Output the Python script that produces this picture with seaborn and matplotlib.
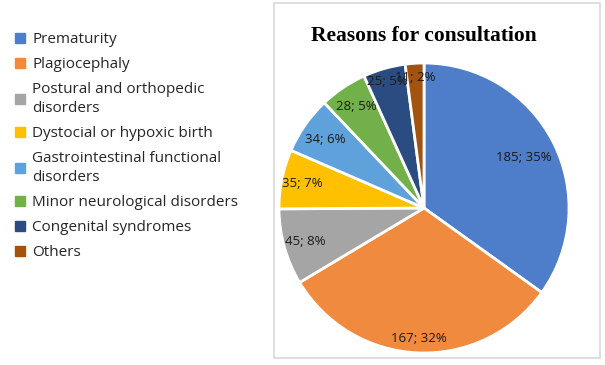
import numpy as np
import pandas as pd
import seaborn as sns
import matplotlib.pyplot as plt
from matplotlib.lines import Line2D
from matplotlib.patches import Rectangle

# data
reasons = ['Prematurity', 'Plagiocephaly', 'Postural and orthopedic\ndisorders',
           'Dystocial or hypoxic birth', 'Gastrointestinal functional\ndisorders',
           'Minor neurological disorders', 'Congenital syndromes', 'Others']
counts = [185, 167, 45, 35, 34, 28, 25, 11]
pct_labels = ['35%', '32%', '8%', '7%', '6%', '5%', '5%', '2%']
colors = ['#4E7DC9', '#F08A3E', '#A5A5A5', '#FFC000', '#5FA1DA', '#72B04A', '#2B4C80', '#A3520F']

# how far out each label sits (fraction of radius), mimics excel best fit
label_dist = [0.77, 0.90, 0.85, 0.86, 0.83, 0.84, 0.91, 0.90]

df = pd.DataFrame({'reason': reasons, 'count': counts, 'pct': pct_labels})

sns.set_theme(style='white')
plt.rcParams['font.family'] = ['Open Sans', 'DejaVu Sans']
pal = sns.color_palette(colors)

fig = plt.figure(figsize=(6.05, 3.65), dpi=100)

# grey frame around the chart area
fig.patches.append(Rectangle((274/605, 1 - 358/365), (600-274)/605, (358-3)/365,
                             transform=fig.transFigure, fill=False,
                             edgecolor='#D9D9D9', linewidth=1.2))

ax = fig.add_axes([(424-145)/605, (157-145)/365, 290/605, 290/365])
wedges, _ = ax.pie(df['count'], colors=pal, startangle=90, counterclock=False,
                   wedgeprops=dict(edgecolor='white', linewidth=2))
ax.set_xlim(-1, 1)
ax.set_ylim(-1, 1)
ax.set_aspect('equal')

for w, n, p, d in zip(wedges, df['count'], df['pct'], label_dist):
    th = np.deg2rad((w.theta1 + w.theta2) / 2)
    ax.text(d*np.cos(th), d*np.sin(th), str(n) + '; ' + p, ha='center', va='center',
            fontsize=9.5, color='#1a1a1a')

fig.text(424/605, 1 - 36/365, 'Reasons for consultation', ha='center', va='center',
         fontsize=15.5, fontweight='bold', family='Liberation Serif', color='black')

handles = [Line2D([0], [0], marker='s', linestyle='none', markersize=6.5,
                  markerfacecolor=c, markeredgecolor=c) for c in colors]
leg = fig.legend(handles, df['reason'], loc='upper left', bbox_to_anchor=(8/605, 1 - 26/365),
                 frameon=False, fontsize=11, handlelength=0.8, handletextpad=0.4,
                 labelspacing=0.66, borderaxespad=0)
for t in leg.get_texts():
    t.set_color('#262626')
    t.set_linespacing(1.35)

plt.savefig('out.png', dpi=100)
